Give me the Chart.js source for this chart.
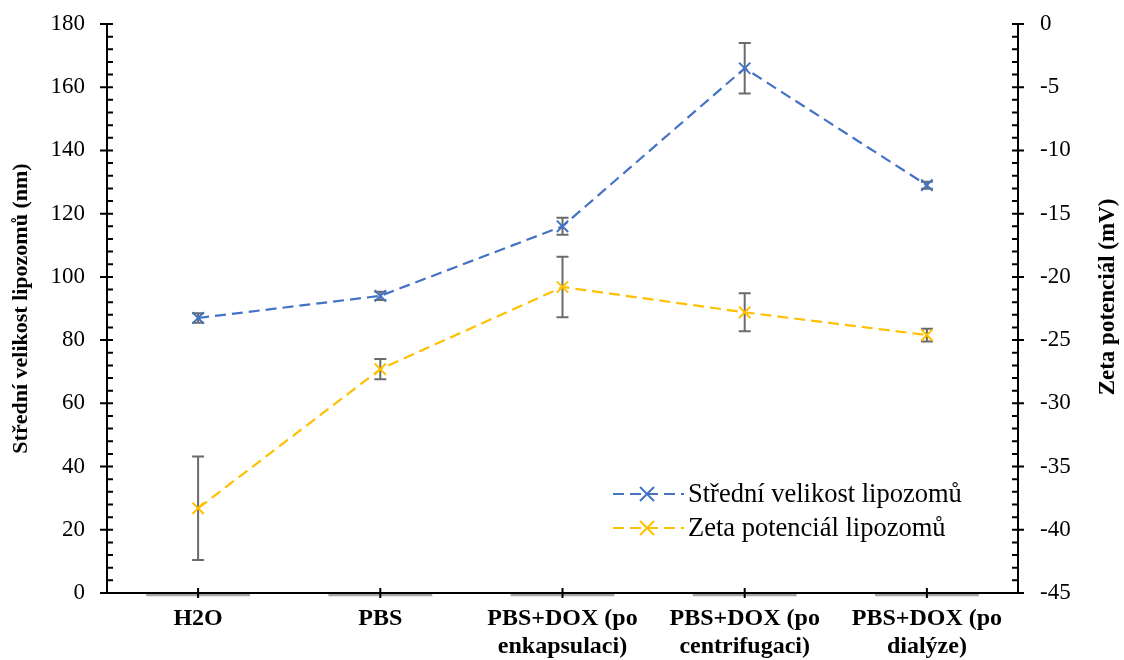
<!DOCTYPE html>
<html>
<head>
<meta charset="utf-8">
<script src="https://cdn.jsdelivr.net/npm/chart.js@4"></script>
<style>
  body { margin: 0; background: #fff; }
  #wrap { width: 1124px; height: 660px; position: relative; }
</style>
</head>
<body>
<div id="wrap"><canvas id="lipoChart"></canvas></div>
<script>
// categories and values
const categories = [
  'H2O',
  'PBS',
  ['PBS+DOX (po', 'enkapsulaci)'],
  ['PBS+DOX (po', 'centrifugaci)'],
  ['PBS+DOX (po', 'dialýze)']
];
const sizeValues = [87, 94, 116, 166, 129];     // nm, left axis
const sizeErrors = [1.5, 1.3, 2.7, 8, 1.1];
const zetaValues = [-38.3, -27.3, -20.8, -22.8, -24.6]; // mV, right axis
const zetaErrors = [4.1, 0.8, 2.4, 1.5, 0.5];
const baseBars = [[-1, 0], [-1, 0], [-1, 0], [-1, 0], [-1, 0]]; // grey stubs under the x axis

const sizeTicks = { min: 0, max: 180, step: 20, minor: 4 };
const zetaTicks = { min: -45, max: 0, step: 5, minor: 1 };

const FONT = "'Liberation Serif', 'Times New Roman', serif";
const BLUE = '#4472C4';
const YELLOW = '#FFC000';

const errorBars = {
  id: 'errorBars',
  beforeDatasetsDraw(chart) {
    const ctx = chart.ctx;
    const sets = [
      { idx: 1, vals: sizeValues, errs: sizeErrors, scale: chart.scales.y },
      { idx: 2, vals: zetaValues, errs: zetaErrors, scale: chart.scales.y2 }
    ];
    ctx.save();
    ctx.strokeStyle = '#6b6b6b';
    ctx.lineWidth = 2;
    sets.forEach(s => {
      const meta = chart.getDatasetMeta(s.idx);
      meta.data.forEach((pt, j) => {
        const top = s.scale.getPixelForValue(s.vals[j] + s.errs[j]);
        const bot = s.scale.getPixelForValue(s.vals[j] - s.errs[j]);
        ctx.beginPath();
        ctx.moveTo(pt.x, top); ctx.lineTo(pt.x, bot);
        ctx.moveTo(pt.x - 6, top); ctx.lineTo(pt.x + 6, top);
        ctx.moveTo(pt.x - 6, bot); ctx.lineTo(pt.x + 6, bot);
        ctx.stroke();
      });
    });
    ctx.restore();
  }
};

const drawCross = (ctx, x, y, r, color) => {
  ctx.save();
  ctx.strokeStyle = color;
  ctx.lineWidth = 2;
  ctx.beginPath();
  ctx.moveTo(x - r, y - r); ctx.lineTo(x + r, y + r);
  ctx.moveTo(x - r, y + r); ctx.lineTo(x + r, y - r);
  ctx.stroke();
  ctx.restore();
};

const frame = {
  id: 'frame',
  afterDraw(chart) {
    const ctx = chart.ctx;
    const a = chart.chartArea;
    const y = chart.scales.y, y2 = chart.scales.y2, x = chart.scales.x;
    ctx.save();
    ctx.strokeStyle = '#000';
    ctx.lineWidth = 2;
    ctx.beginPath();
    // axis lines
    ctx.moveTo(a.left, a.top); ctx.lineTo(a.left, a.bottom);
    ctx.moveTo(a.right, a.top); ctx.lineTo(a.right, a.bottom);
    ctx.moveTo(a.left, a.bottom); ctx.lineTo(a.right, a.bottom);
    // left ticks
    for (let v = sizeTicks.min; v <= sizeTicks.max; v += sizeTicks.minor) {
      const py = y.getPixelForValue(v);
      if (v % sizeTicks.step === 0) { ctx.moveTo(a.left - 7, py); ctx.lineTo(a.left + 6, py); }
      else { ctx.moveTo(a.left, py); ctx.lineTo(a.left + 6, py); }
    }
    // right ticks
    for (let v = zetaTicks.min; v <= zetaTicks.max; v += zetaTicks.minor) {
      const py = y2.getPixelForValue(v);
      if (v % zetaTicks.step === 0) { ctx.moveTo(a.right - 6, py); ctx.lineTo(a.right + 6, py); }
      else { ctx.moveTo(a.right - 6, py); ctx.lineTo(a.right, py); }
    }
    // category ticks
    categories.forEach((c, i) => {
      const px = x.getPixelForValue(i);
      ctx.moveTo(px, a.bottom - 5); ctx.lineTo(px, a.bottom + 5);
    });
    ctx.stroke();

    // right axis title, reading bottom to top
    ctx.fillStyle = '#000';
    ctx.font = 'bold 23px ' + FONT;
    ctx.textAlign = 'center';
    ctx.textBaseline = 'middle';
    ctx.translate(1108, 297);
    ctx.rotate(-Math.PI / 2);
    ctx.fillText('Zeta potenciál (mV)', 0, 0);
    ctx.restore();

    // legend inside plot
    const rows = [
      { text: 'Střední velikost lipozomů', color: BLUE, y: 494 },
      { text: 'Zeta potenciál lipozomů', color: YELLOW, y: 528 }
    ];
    ctx.save();
    rows.forEach(r => {
      ctx.strokeStyle = r.color;
      ctx.lineWidth = 2;
      ctx.setLineDash([11, 6]);
      ctx.beginPath();
      ctx.moveTo(613, r.y); ctx.lineTo(684, r.y);
      ctx.stroke();
      ctx.setLineDash([]);
      drawCross(ctx, 647, r.y, 7, r.color);
      ctx.fillStyle = '#000';
      ctx.font = '26.5px ' + FONT;
      ctx.textAlign = 'left';
      ctx.textBaseline = 'middle';
      ctx.fillText(r.text, 688, r.y + 1);
    });
    ctx.restore();
  }
};

// vertical scales: fixed widths, no extra room for half labels at the ends
const fitY = w => s => { s.width = w; s.paddingTop = 0; s.paddingBottom = 0; };

new Chart(document.getElementById('lipoChart'), {
  data: {
    labels: categories,
    datasets: [
      {
        type: 'bar',
        data: baseBars,
        backgroundColor: '#a6a6a6',
        barPercentage: 0.6,
        categoryPercentage: 0.95,
        clip: false,
        yAxisID: 'y',
        order: 3
      },
      {
        type: 'line',
        label: 'Střední velikost lipozomů',
        data: sizeValues,
        yAxisID: 'y',
        borderColor: BLUE,
        borderWidth: 2.2,
        borderDash: [11, 6],
        pointStyle: 'crossRot',
        pointRadius: 8,
        pointBorderWidth: 2,
        pointBorderColor: BLUE,
        fill: false,
        order: 1
      },
      {
        type: 'line',
        label: 'Zeta potenciál lipozomů',
        data: zetaValues,
        yAxisID: 'y2',
        borderColor: YELLOW,
        borderWidth: 2.2,
        borderDash: [11, 6],
        pointStyle: 'crossRot',
        pointRadius: 8,
        pointBorderWidth: 2,
        pointBorderColor: YELLOW,
        fill: false,
        order: 2
      }
    ]
  },
  options: {
    responsive: true,
    maintainAspectRatio: false,
    animation: false,
    layout: { padding: { top: 24 } },
    plugins: { legend: { display: false }, tooltip: { enabled: false } },
    scales: {
      x: {
        type: 'category',
        offset: true,
        grid: { display: false, drawTicks: false },
        border: { display: false },
        ticks: { color: '#000', font: { family: FONT, size: 24, weight: 'bold' }, padding: 11, maxRotation: 0, autoSkip: false },
        afterFit: s => { s.height = 67; s.paddingLeft = 0; s.paddingRight = 0; }
      },
      y: {
        position: 'left',
        min: sizeTicks.min,
        max: sizeTicks.max,
        grid: { display: false, drawTicks: false },
        border: { display: false },
        ticks: { stepSize: sizeTicks.step, color: '#000', font: { family: FONT, size: 23 }, padding: 22 },
        title: { display: true, text: 'Střední velikost lipozomů (nm)', color: '#000', font: { family: FONT, size: 22, weight: 'bold' }, padding: { top: 8, bottom: 0 } },
        afterFit: fitY(107)
      },
      y2: {
        position: 'right',
        min: zetaTicks.min,
        max: zetaTicks.max,
        grid: { display: false, drawTicks: false },
        border: { display: false },
        ticks: { stepSize: zetaTicks.step, color: '#000', font: { family: FONT, size: 23 }, padding: 22 },
        afterFit: fitY(106)
      }
    }
  },
  plugins: [errorBars, frame]
});
</script>
</body>
</html>
